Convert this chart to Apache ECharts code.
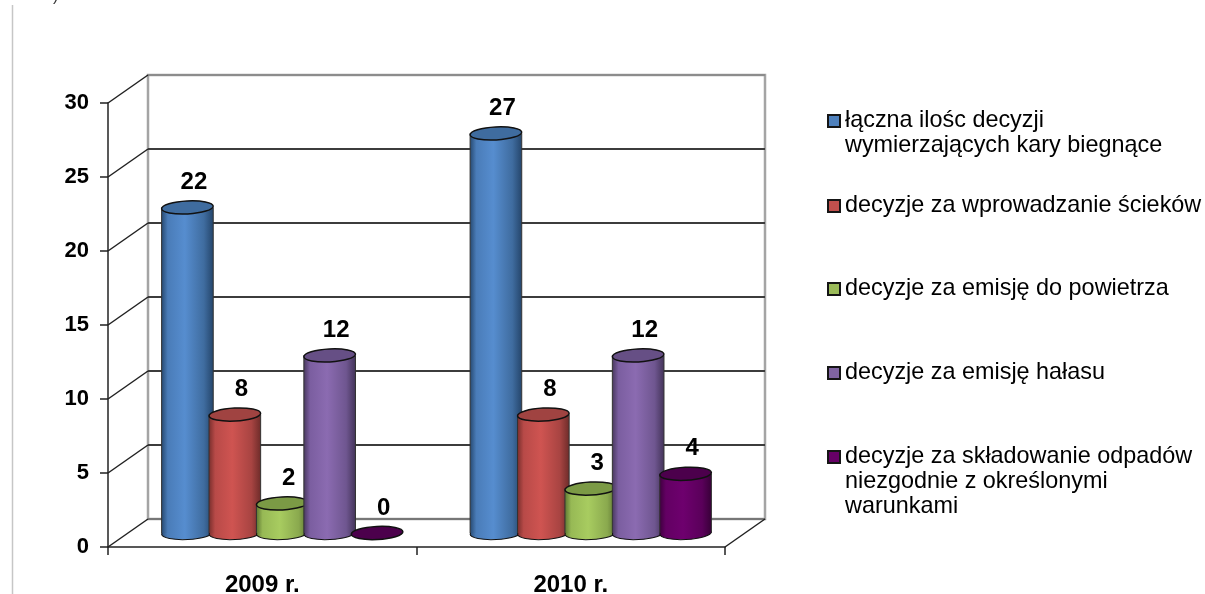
<!DOCTYPE html>
<html><head><meta charset="utf-8">
<style>html,body{margin:0;padding:0;background:#fff}#c{width:1205px;height:594px}</style>
<script src="https://cdn.jsdelivr.net/npm/echarts@6/dist/echarts.min.js"></script>
</head><body><div id="c"></div>
<script>
const categories = ['2009 r.', '2010 r.'];
const yTicks = [0, 5, 10, 15, 20, 25, 30];
const seriesNames = [
  'łączna ilośc decyzji\nwymierzających kary biegnące',
  'decyzje za wprowadzanie ścieków',
  'decyzje za emisję do powietrza',
  'decyzje za emisję hałasu',
  'decyzje za składowanie odpadów\nniezgodnie z określonymi\nwarunkami'
];
const totalDecisions = [22, 27];
const sewageDecisions = [8, 8];
const airDecisions = [2, 3];
const noiseDecisions = [12, 12];
const wasteDecisions = [0, 4];
const seriesValues = [totalDecisions, sewageDecisions, airDecisions, noiseDecisions, wasteDecisions];

const legendColors = ['#4f81bd', '#c0504d', '#9bbb59', '#8064a2', '#660066'];
const bodyStops = [
  ['#274a72', '#4a7cb8', '#568dcf', '#3f6c9f', '#25466c'],
  ['#7a2f2d', '#b84a48', '#cf5451', '#a84442', '#6f2c2a'],
  ['#5f7832', '#97b955', '#a8cc60', '#8aa94e', '#5b7230'],
  ['#4a3960', '#7b5ea0', '#8b6bb1', '#6f5690', '#44345a'],
  ['#3f003f', '#630063', '#6e006e', '#5a005a', '#380038']
];
const capColors = ['#3f6c9f', '#a04341', '#7b9a45', '#664f85', '#4c004c'];
const legendCenters = [121, 206, 289, 373, 457];
const extraLines = [[['wymierzających kary biegnące', 147]], [], [], [], [['niezgodnie z określonymi', 483], ['warunkami', 508]]];

const FONT = '"Liberation Sans", Arial, sans-serif';
const DEPTH = [40, -28];
const LEGEND_SIZE = 23.4;

function cylinder(idx) {
  return function (params, api) {
    const band = api.size([1, 0])[0];
    const step = band * 0.1537, rx = band * 0.0837, ry = 6.5, rot = 0.05;
    const cx = api.coord([api.value(0), 0])[0] + (idx - 2) * step;
    const y0 = api.coord([api.value(0), 0])[1];
    const y1 = api.coord([api.value(0), api.value(1)])[1];
    const grad = {
      type: 'linear', x: 0, y: 0, x2: 1, y2: 0,
      colorStops: [0, 0.12, 0.45, 0.82, 1].map((o, k) => ({ offset: o, color: bodyStops[idx][k] }))
    };
    const outline = '#111';
    const ellipse = (cy, fill, sw) => ({
      type: 'ellipse',
      shape: { cx: cx, cy: cy, rx: rx, ry: ry },
      rotation: rot, originX: cx, originY: cy,
      style: { fill: fill, stroke: outline, lineWidth: sw }
    });
    const children = [];
    if (y0 - y1 > 1) {
      children.push(ellipse(y0, grad, 1));
      children.push({ type: 'rect', shape: { x: cx - rx, y: y1, width: rx * 2, height: y0 - y1 }, style: { fill: grad } });
      children.push({ type: 'line', shape: { x1: cx - rx, y1: y1, x2: cx - rx, y2: y0 }, style: { stroke: '#333', lineWidth: 1 } });
      children.push({ type: 'line', shape: { x1: cx + rx, y1: y1, x2: cx + rx, y2: y0 }, style: { stroke: '#333', lineWidth: 1 } });
    }
    children.push(ellipse(y1, capColors[idx], 1.5));
    children.push({
      type: 'text',
      style: {
        x: cx + 6.5, y: y1 - 25, text: String(api.value(1)), fill: '#000',
        font: 'bold 24px ' + FONT, align: 'center', verticalAlign: 'middle'
      }
    });
    return { type: 'group', children: children };
  };
}

function depthLines(params, api) {
  const cs = params.coordSys;
  const y = api.coord([0, api.value(0)])[1];
  const line = (x, yy) => ({
    type: 'line',
    shape: { x1: x, y1: yy, x2: x + DEPTH[0], y2: yy + DEPTH[1] },
    style: { stroke: '#222', lineWidth: 1.5 }
  });
  const kids = [line(cs.x, y)];
  if (api.value(0) === 0) kids.push(line(cs.x + cs.width, y));
  return { type: 'group', children: kids };
}

const cylinderSeries = seriesValues.map((vals, i) => ({
  type: 'custom',
  name: seriesNames[i],
  xAxisIndex: 1, yAxisIndex: 1,
  itemStyle: { color: legendColors[i] },
  renderItem: cylinder(i),
  encode: { x: 0, y: 1 },
  data: vals.map((v, c) => [c, v]),
  z: 5 + i,
  silent: true
}));

const chart = echarts.init(document.getElementById('c'), null, { renderer: 'canvas' });
chart.setOption({
  animation: false,
  backgroundColor: '#fff',
  textStyle: { fontFamily: FONT },
  grid: [
    { left: 108, right: 480, top: 103, bottom: 47, outerBoundsMode: 'none' },
    { left: 128, right: 460, top: 89, bottom: 61, outerBoundsMode: 'none' },
    { left: 148, right: 440, top: 75, bottom: 75, outerBoundsMode: 'none', show: true, borderColor: '#a4a4a4', borderWidth: 2.5, backgroundColor: 'transparent' }
  ],
  xAxis: [
    { gridIndex: 0, type: 'category', data: categories,
      axisLine: { lineStyle: { color: '#222', width: 1.5 } },
      axisTick: { show: true, length: 8, lineStyle: { color: '#222', width: 1.5 } },
      axisLabel: { fontFamily: FONT, fontWeight: 'bold', fontSize: 24, color: '#000', margin: 26 } },
    { gridIndex: 1, type: 'category', data: categories, show: false },
    { gridIndex: 2, type: 'category', data: categories, show: false }
  ],
  yAxis: [
    { gridIndex: 0, type: 'value', min: 0, max: 30, interval: 5,
      axisLine: { show: true, lineStyle: { color: '#222', width: 1.5 } },
      axisTick: { show: true, length: 8, lineStyle: { color: '#222', width: 1.5 } },
      splitLine: { show: false },
      axisLabel: { fontFamily: FONT, fontWeight: 'bold', fontSize: 22, color: '#000', margin: 19 } },
    { gridIndex: 1, type: 'value', min: 0, max: 30, interval: 5, show: false, splitLine: { show: false } },
    { gridIndex: 2, type: 'value', min: 0, max: 30, interval: 5,
      axisLine: { show: false }, axisTick: { show: false }, axisLabel: { show: false },
      splitLine: { show: true, lineStyle: { width: 2, color: ['#777', '#3c3c3c', '#3c3c3c', '#3c3c3c', '#3c3c3c', '#3c3c3c', '#8c8c8c'] } } }
  ],
  legend: seriesNames.map((name, i) => ({
    data: [name],
    left: 827,
    top: legendCenters[i] - 12,
    padding: 0,
    icon: 'rect',
    itemWidth: 12,
    itemHeight: 12,
    selectedMode: false,
    itemStyle: { borderColor: '#151515', borderWidth: 2 },
    textStyle: { fontFamily: FONT, fontSize: LEGEND_SIZE, color: '#000', lineHeight: 24 },
    formatter: n => n.split('\n')[0]
  })),
  graphic: [
    { type: 'line', silent: true, shape: { x1: 12.5, y1: 5, x2: 12.5, y2: 594 }, style: { stroke: '#c6c6c6', lineWidth: 1.5 } },
    { type: 'text', silent: true, left: 53, top: -11, style: { text: ')', fill: '#333', font: '16px ' + FONT } }
  ].concat(extraLines.flat().map(([t, y]) => ({
    type: 'text', silent: true, left: 845, top: y - 13,
    style: { text: t, fill: '#000', font: LEGEND_SIZE + 'px ' + FONT }
  }))),
  series: [
    { type: 'custom', name: 'depth', xAxisIndex: 0, yAxisIndex: 0, renderItem: depthLines, encode: { y: 0 },
      data: yTicks.map(v => [v]), silent: true, z: 3 }
  ].concat(cylinderSeries)
});
</script></body></html>
